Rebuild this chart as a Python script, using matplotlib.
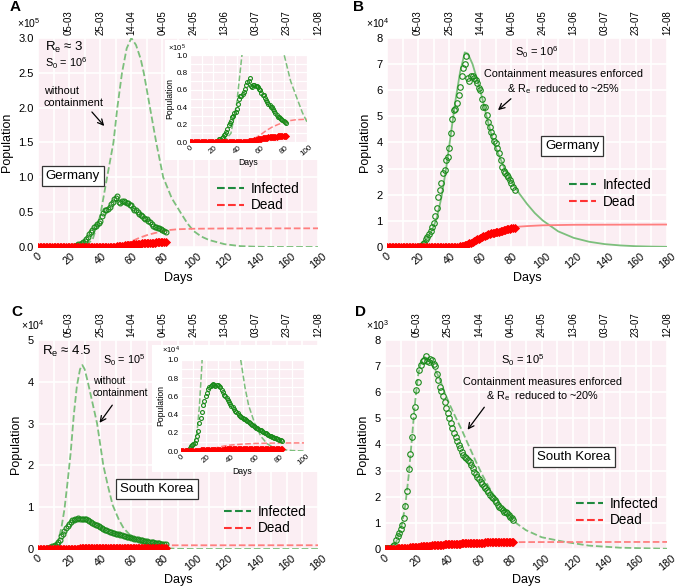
import numpy as np
import matplotlib
matplotlib.use("Agg")
import matplotlib.pyplot as plt
from matplotlib.lines import Line2D

plt.rcParams['font.family'] = ['Liberation Sans', 'DejaVu Sans']
plt.rcParams['mathtext.fontset'] = 'custom'
plt.rcParams['mathtext.rm'] = 'Liberation Sans'
plt.rcParams['mathtext.it'] = 'Liberation Sans:italic'

# ---- observed data, one point per day (day 0 .. 82)
days = np.arange(83)
# Germany, infected (x1e4)
ger_inf = [0, 0, 0, 0, 0, 0, 0, 0, 0, 0,
           0, 0, 0, 0, 0, 0, 0, 0, 0.005, 0.008,
           0.01, 0.02, 0.05, 0.1, 0.17, 0.29, 0.39, 0.5, 0.62, 0.75,
           0.93, 1.19, 1.48, 1.93, 2.18, 2.44, 2.85, 2.95, 3.33, 3.46,
           3.8, 4.38, 4.89, 5.25, 5.27, 5.5, 5.8, 6.12, 6.53, 6.85,
           7.0, 7.32, 6.46, 6.34, 6.55, 6.55, 6.46, 6.38, 6.27, 6.1,
           6.01, 5.66, 5.37, 5.35, 5.06, 4.8, 4.61, 4.42, 4.23, 4.07,
           3.97, 3.8, 3.59, 3.33, 3.08, 2.92, 2.82, 2.75, 2.67, 2.55,
           2.46, 2.31, 2.18]
# Germany, dead (x1e4)
ger_dead = [0] * 35 + [0.002, 0.003, 0.004, 0.005, 0.006,
                       0.007, 0.008, 0.009, 0.01, 0.01,
                       0.01, 0.015, 0.02, 0.03, 0.04,
                       0.06, 0.08, 0.11, 0.14, 0.17,
                       0.2, 0.23, 0.26, 0.29, 0.32,
                       0.35, 0.38, 0.41, 0.44, 0.46,
                       0.48, 0.5, 0.52, 0.54, 0.55,
                       0.57, 0.58, 0.59, 0.61, 0.62,
                       0.64, 0.65, 0.67, 0.68, 0.7,
                       0.71, 0.72, 0.73]
# South Korea, infected (x1e3)
kor_inf = [0.02, 0.02, 0.02, 0.03, 0.05, 0.1, 0.15, 0.34, 0.5, 0.62,
           0.75, 0.92, 1.18, 1.65, 2.23, 3.05, 3.64, 4.27, 5.1, 5.45,
           6.09, 6.41, 6.86, 7.05, 7.18, 7.25, 7.37, 7.2, 7.15, 7.28,
           7.24, 7.1, 7.01, 6.7, 6.47, 6.2, 6.03, 5.84, 5.64, 5.39,
           5.2, 5.0, 4.82, 4.62, 4.45, 4.3, 4.15, 4.0, 3.86, 3.72,
           3.6, 3.53, 3.47, 3.4, 3.34, 3.2, 3.1, 2.96, 2.87, 2.77,
           2.68, 2.58, 2.5, 2.4, 2.33, 2.26, 2.17, 2.07, 2.0, 1.94,
           1.88, 1.78, 1.69, 1.62, 1.56, 1.5, 1.43, 1.4, 1.37, 1.3,
           1.24, 1.17, 1.11]
# South Korea, dead (x1e3)
kor_dead = [0.0, 0.0, 0.0, 0.0, 0.01, 0.01, 0.01, 0.01, 0.02, 0.02,
            0.03, 0.03, 0.04, 0.04, 0.05, 0.05, 0.06, 0.07, 0.07, 0.08,
            0.08, 0.09, 0.09, 0.1, 0.1, 0.11, 0.11, 0.12, 0.13, 0.13,
            0.14, 0.14, 0.15, 0.15, 0.16, 0.16, 0.17, 0.17, 0.18, 0.18,
            0.19, 0.19, 0.19, 0.2, 0.2, 0.2, 0.21, 0.21, 0.21, 0.22,
            0.22, 0.22, 0.22, 0.23, 0.23, 0.23, 0.23, 0.23, 0.24, 0.24,
            0.24, 0.24, 0.24, 0.24, 0.25, 0.25, 0.25, 0.25, 0.25, 0.25,
            0.25, 0.25, 0.25, 0.25, 0.26, 0.26, 0.26, 0.26, 0.26, 0.26,
            0.26, 0.26, 0.26]

# ---- model curves (day, value)
# A: Germany without containment (x1e5)
mA_inf_t = [0, 20, 30, 35, 40, 44, 48.5, 51, 54, 57, 60, 63, 66, 68, 72, 76, 80.5, 86, 91.5, 96, 100, 105, 110, 120, 130, 140, 150, 180]
mA_inf_v = [0, 0.002, 0.02, 0.1, 0.45, 0.95, 1.5, 2.0, 2.5, 2.85, 3.0, 2.9, 2.7, 2.5, 2.0, 1.5, 1.0, 0.7, 0.5, 0.34, 0.23, 0.15, 0.1, 0.04, 0.013, 0.004, 0.001, 0]
mA_dead_t = [0, 40, 50, 55, 60, 65, 70, 75, 80, 85, 90, 100, 120, 180]
mA_dead_v = [0, 0.002, 0.015, 0.04, 0.08, 0.13, 0.17, 0.2, 0.225, 0.245, 0.255, 0.262, 0.266, 0.268]
# B: Germany with containment (x1e4)
mB_inf_t = [0, 15, 20, 23, 26, 29, 32, 35, 38, 41, 44, 47, 50, 52, 55, 58, 61, 64, 68, 72, 76, 80, 85, 90, 95, 100, 110, 120, 130, 140, 150, 160, 170, 180]
mB_inf_v = [0, 0.005, 0.05, 0.15, 0.35, 0.65, 1.1, 1.9, 3.0, 4.3, 5.6, 6.7, 7.45, 7.4, 7.0, 6.4, 5.75, 5.0, 4.1, 3.5, 2.95, 2.5, 2.05, 1.65, 1.3, 1.02, 0.6, 0.35, 0.2, 0.11, 0.06, 0.03, 0.015, 0.007]
mB_dead_t = [0, 40, 45, 50, 55, 60, 65, 70, 75, 80, 85, 90, 100, 120, 180]
mB_dead_v = [0, 0.01, 0.03, 0.1, 0.22, 0.36, 0.49, 0.6, 0.68, 0.74, 0.78, 0.8, 0.83, 0.85, 0.86]
# C: South Korea without containment (x1e4)
mC_inf_t = [0, 5, 10, 13, 15, 17, 19, 21, 23, 25, 27, 28.5, 30, 32, 35, 38, 42, 45, 48, 52, 55, 60, 65, 70, 75, 80, 90, 100, 180]
mC_inf_v = [0, 0.005, 0.05, 0.2, 0.5, 0.95, 1.6, 2.3, 3.2, 3.9, 4.3, 4.4, 4.3, 4.0, 3.5, 3.0, 2.0, 1.5, 1.05, 0.7, 0.5, 0.3, 0.16, 0.08, 0.04, 0.02, 0.005, 0, 0]
mC_dead_t = [0, 15, 20, 25, 30, 35, 40, 50, 60, 70, 80, 100, 180]
mC_dead_v = [0, 0.002, 0.01, 0.025, 0.04, 0.055, 0.065, 0.076, 0.083, 0.086, 0.088, 0.089, 0.09]
# D: South Korea with containment (x1e3)
mD_inf_t = [0, 3, 5, 7, 9, 11, 13, 15, 17, 19, 21, 23, 25, 27, 29, 31, 33, 35, 38, 41.5, 45, 49, 52, 55, 58, 62, 66, 70, 75, 80, 84, 90, 100, 114, 130, 150, 180]
mD_inf_v = [0, 0.03, 0.08, 0.25, 0.55, 1.0, 1.7, 2.75, 4.1, 5.5, 6.6, 7.2, 7.35, 7.3, 7.15, 6.95, 6.75, 6.5, 6.0, 5.5, 5.05, 4.56, 4.15, 3.75, 3.35, 2.85, 2.4, 2.0, 1.6, 1.25, 0.98, 0.72, 0.45, 0.28, 0.13, 0.05, 0.01]
mD_dead_t = [0, 10, 20, 30, 40, 50, 60, 70, 82, 90, 180]
mD_dead_v = [0, 0.03, 0.08, 0.14, 0.19, 0.22, 0.24, 0.25, 0.26, 0.265, 0.27]

date_ticks = [20, 40, 60, 80, 100, 120, 140, 160, 180]
date_labels = ['05-03', '25-03', '14-04', '04-05', '24-05', '13-06', '03-07', '23-07', '12-08']

PINK = '#fbeef3'
GREEN = '#1a8a1a'
MGREEN = '#7cbf7c'
MRED = '#ff7f7f'
W, H = 677, 586

fig = plt.figure(figsize=(6.77, 5.86), dpi=100)


def px(l, t, r, b):
    return [l / W, 1 - b / H, (r - l) / W, (b - t) / H]


def style(ax, ymax, ystep, fmt, small=False):
    ax.set_facecolor(PINK)
    for s in ax.spines.values():
        s.set_visible(False)
    xmax = 100 if small else 180
    ax.set_xlim(0, xmax)
    ax.set_ylim(0, ymax)
    ax.set_xticks(np.arange(0, xmax + 1, 20))
    ax.set_xticks(np.arange(0, xmax + 1, 10), minor=True)
    yt = np.arange(0, ymax + ystep / 2, ystep)
    ax.set_yticks(yt)
    ax.set_yticklabels([fmt % v for v in yt])
    ax.grid(True, which='both', color='white', lw=1.2 if not small else 0.9)
    ax.set_axisbelow(True)
    ax.tick_params(which='both', length=0, labelsize=5.8 if small else 8, pad=1.5 if small else 3)
    ax.tick_params(axis='x', labelsize=5.8 if small else 7.8)
    for lab in ax.get_xticklabels():
        lab.set_rotation(40)
        lab.set_ha('center')
    ax.set_xlabel('Days', fontsize=6.2 if small else 9, labelpad=0 if small else 1)
    ax.set_ylabel('Population', fontsize=6.2 if small else 9, labelpad=2 if small else 4)


def top_axis(ax):
    tx = ax.twiny()
    tx.set_xlim(0, 180)
    tx.set_xticks(date_ticks)
    tx.set_xticklabels(date_labels, rotation=90, fontsize=7)
    tx.tick_params(length=0, pad=2)
    for s in tx.spines.values():
        s.set_visible(False)


def legend(ax, x, y):
    h = [Line2D([], [], color='#1f8a3f', ls='--', lw=1.5),
         Line2D([], [], color='#ff3333', ls='--', lw=1.5)]
    ax.legend(h, ['Infected', 'Dead'], loc='center left', bbox_to_anchor=(x, y),
              frameon=False, fontsize=9.8, handlelength=2.0, handletextpad=0.5,
              labelspacing=0.2, borderpad=0.3)


def country(ax, x, y, name):
    ax.text(x, y, name, transform=ax.transAxes, ha='center', va='center', fontsize=9.5,
            bbox=dict(boxstyle='square,pad=0.3', fc='white', ec='#333333', lw=0.9))


def obs(ax, inf, dead, scale, ms=3.5):
    ax.plot(days, np.array(inf) * scale, 'o', mfc='none', mec=GREEN, ms=ms, mew=0.8)
    ax.plot(days, np.array(dead) * scale, 'D', color='red', mec='red', ms=ms * 1.1, mew=0.6)


def arrow(ax, tail, head):
    ax.annotate('', xy=head, xytext=tail, xycoords='axes fraction',
                arrowprops=dict(arrowstyle='->', color='black', lw=0.9))


# ---------------- A
axA = fig.add_axes(px(38, 38, 318, 247))
style(axA, 3.0, 0.5, '%.1f')
top_axis(axA)
axA.plot(mA_inf_t, mA_inf_v, '--', color=MGREEN, lw=1.3)
axA.plot(mA_dead_t, mA_dead_v, '--', color=MRED, lw=1.3)
obs(axA, ger_inf, ger_dead, 0.1)
legend(axA, 0.6, 0.239)
country(axA, 0.125, 0.34, 'Germany')
axA.text(0.025, 0.955, r'R$_\mathrm{e}$ ≈ 3', transform=axA.transAxes, fontsize=9.5, va='center')
axA.text(0.025, 0.878, r'S$_0$ = 10$^6$', transform=axA.transAxes, fontsize=7.8, va='center')
axA.text(0.021, 0.718, 'without\ncontainment', transform=axA.transAxes, fontsize=7.8, va='center',
         linespacing=1.2)
arrow(axA, (0.186, 0.656), (0.243, 0.569))

# ---------------- B
axB = fig.add_axes(px(387, 38, 667, 247))
style(axB, 8, 1, '%d')
top_axis(axB)
axB.plot(mB_inf_t, mB_inf_v, '-', color=MGREEN, lw=1.3)
axB.plot(mB_dead_t, mB_dead_v, '-', color=MRED, lw=1.3)
obs(axB, ger_inf, ger_dead, 1.0, ms=4)
legend(axB, 0.61, 0.256)
country(axB, 0.661, 0.483, 'Germany')
axB.text(0.536, 0.933, r'S$_0$ = 10$^6$', transform=axB.transAxes, fontsize=8, ha='center', va='center')
axB.text(0.629, 0.787, 'Containment measures enforced\n' + r'& R$_\mathrm{e}$  reduced to ~25%',
         transform=axB.transAxes, fontsize=7.8, ha='center', va='center', linespacing=1.3)
arrow(axB, (0.45, 0.718), (0.389, 0.646))

# ---------------- C
axC = fig.add_axes(px(38, 340, 318, 549))
style(axC, 5, 1, '%d')
top_axis(axC)
axC.plot(mC_inf_t, mC_inf_v, '--', color=MGREEN, lw=1.3)
axC.plot(mC_dead_t, mC_dead_v, '--', color=MRED, lw=1.3)
obs(axC, kor_inf, kor_dead, 0.1)
legend(axC, 0.625, 0.139)
country(axC, 0.425, 0.287, 'South Korea')
axC.text(0.014, 0.943, r'R$_\mathrm{e}$ ≈ 4.5', transform=axC.transAxes, fontsize=9.5, va='center')
axC.text(0.232, 0.904, r'S$_0$ = 10$^5$', transform=axC.transAxes, fontsize=7.8, va='center')
axC.text(0.196, 0.775, 'without\ncontainment', transform=axC.transAxes, fontsize=7.3, va='center',
         linespacing=1.25)
arrow(axC, (0.271, 0.699), (0.214, 0.593))

# ---------------- D
axD = fig.add_axes(px(385, 340, 667, 549))
style(axD, 8, 1, '%d')
top_axis(axD)
axD.plot(mD_inf_t, mD_inf_v, '--', color=MGREEN, lw=1.3)
axD.plot(mD_dead_t, mD_dead_v, '--', color=MRED, lw=1.3)
obs(axD, kor_inf, kor_dead, 1.0, ms=4)
legend(axD, 0.638, 0.177)
country(axD, 0.67, 0.44, 'South Korea')
axD.text(0.489, 0.904, r'S$_0$ = 10$^5$', transform=axD.transAxes, fontsize=8, ha='center', va='center')
axD.text(0.56, 0.761, 'Containment measures enforced\n' + r'& R$_\mathrm{e}$  reduced to ~20%',
         transform=axD.transAxes, fontsize=7.8, ha='center', va='center', linespacing=1.3)
arrow(axD, (0.358, 0.689), (0.287, 0.56))

# ---------------- insets
boxA = fig.add_axes(px(165, 40, 318, 160))
boxA.set_facecolor('white')
boxA.set_xticks([]); boxA.set_yticks([])
for s in boxA.spines.values():
    s.set_visible(False)
inA = fig.add_axes(px(190, 55, 307, 142))
style(inA, 1.0, 0.2, '%.1f', small=True)
inA.set_yticks(np.arange(0, 1.01, 0.1), minor=True)
inA.plot(mA_inf_t, mA_inf_v, '--', color=MGREEN, lw=1.1)
inA.plot(mA_dead_t, mA_dead_v, '--', color=MRED, lw=1.1)
obs(inA, ger_inf, ger_dead, 0.1, ms=2.8)
inA.set_ylim(0, 1.0)

boxC = fig.add_axes(px(152, 345, 318, 472))
boxC.set_facecolor('white')
boxC.set_xticks([]); boxC.set_yticks([])
for s in boxC.spines.values():
    s.set_visible(False)
inC = fig.add_axes(px(181, 360, 304, 451))
style(inC, 1.0, 0.2, '%.1f', small=True)
inC.set_yticks(np.arange(0, 1.01, 0.1), minor=True)
inC.plot(mC_inf_t, mC_inf_v, '--', color=MGREEN, lw=1.1)
inC.plot(mC_dead_t, mC_dead_v, '--', color=MRED, lw=1.1)
obs(inC, kor_inf, kor_dead, 0.1, ms=2.8)
inC.set_ylim(0, 1.0)

# ---------------- offset labels and panel letters
for x, y, t, fs in [(17, 23, r'×10$^5$', 7.5), (366, 23, r'×10$^4$', 7.5),
                    (21, 325, r'×10$^4$', 7.5), (366, 325, r'×10$^3$', 7.5),
                    (168, 48, r'×10$^5$', 5.5), (162, 350, r'×10$^4$', 5.5)]:
    fig.text(x / W, 1 - y / H, t, fontsize=fs, va='center', ha='left')
for x, y, t in [(15, 7, 'A'), (359, 7, 'B'), (17, 312, 'C'), (361, 312, 'D')]:
    fig.text(x / W, 1 - y / H, t, fontsize=11, fontweight='bold', va='center', ha='center')

fig.savefig('out.png', dpi=100)
